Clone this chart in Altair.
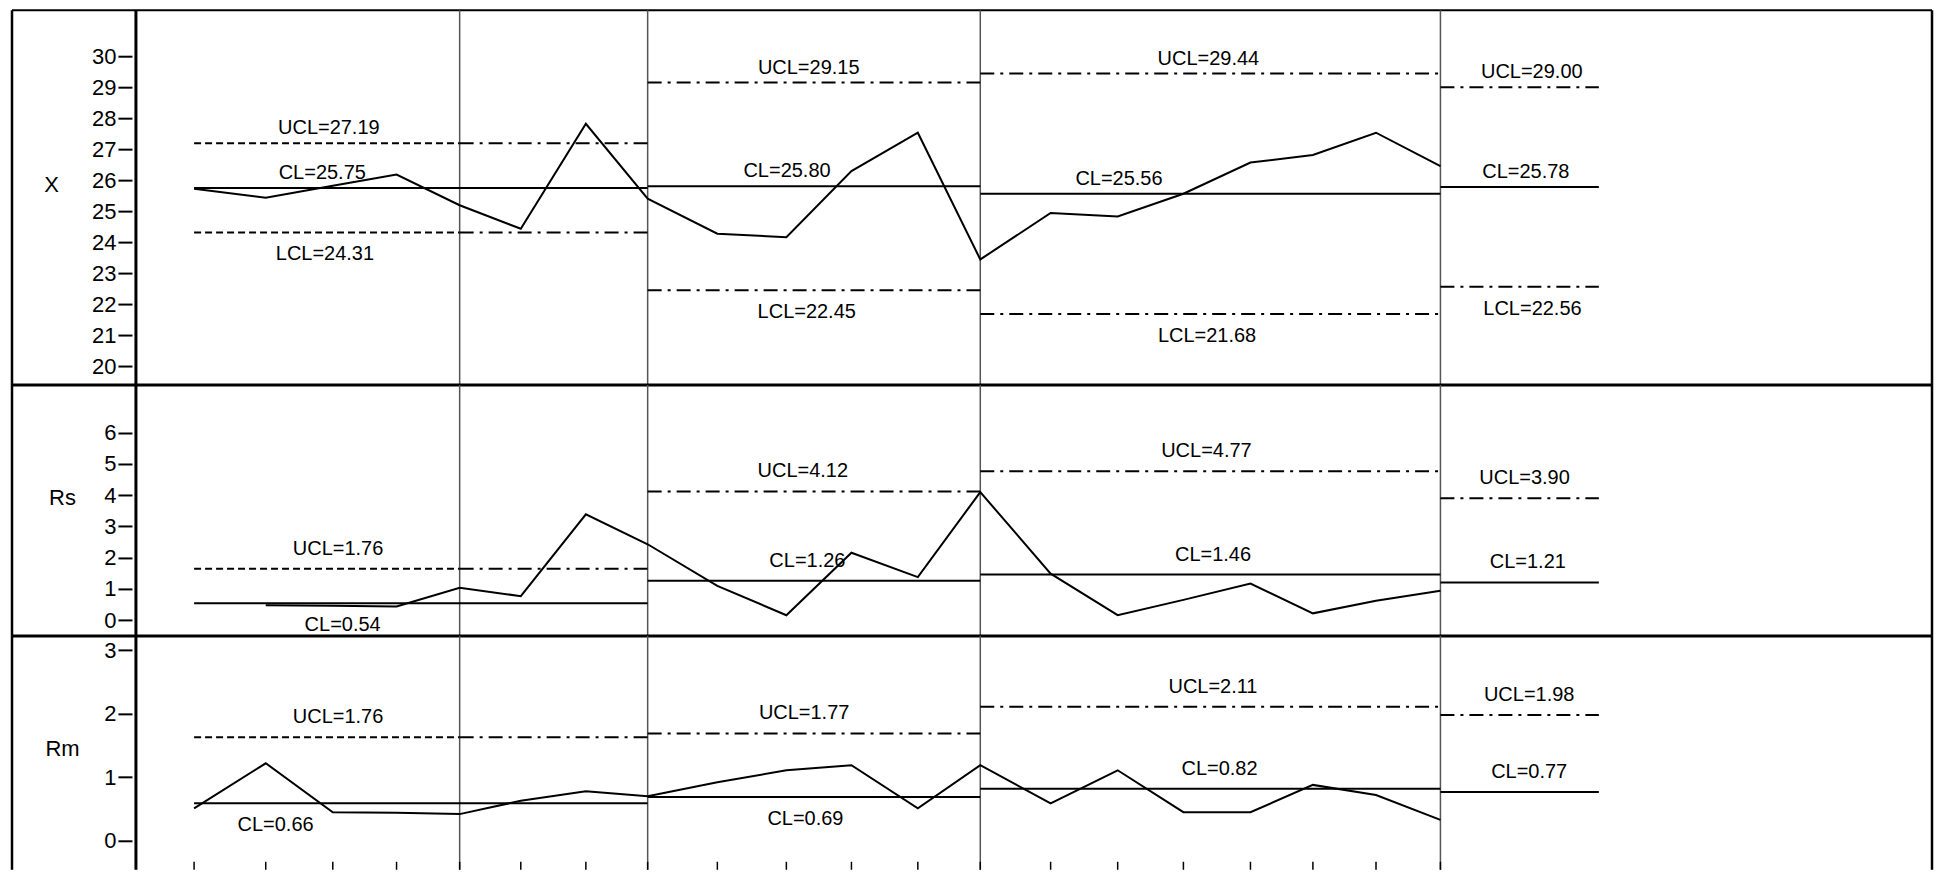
import altair as alt
import pandas as pd

# ---------------- data ----------------
idx = list(range(1, 21))
# horizontal position of each sample (sample-index units)
t_pos = [0.98, 2.07, 3.09, 4.06, 5.02, 5.95, 6.94, 7.88, 8.94, 9.99,
         10.98, 11.99, 12.94, 14.01, 15.03, 16.03, 17.05, 18.00, 18.96, 19.94]
x_vals = [25.72, 25.43, 25.82, 26.18, 25.19, 24.43, 27.82, 25.40, 24.27, 24.16,
          26.29, 27.53, 23.44, 24.94, 24.83, 25.56, 26.57, 26.81, 27.53, 26.45]
rs_vals = [None, 0.48, 0.46, 0.44, 1.04, 0.77, 3.39, 2.43, 1.10, 0.16,
           2.16, 1.38, 4.10, 1.49, 0.16, 0.65, 1.17, 0.22, 0.62, 0.94]
rm_vals = [0.51, 1.22, 0.45, 0.44, 0.42, 0.63, 0.78, 0.70, 0.92, 1.11,
           1.19, 0.51, 1.19, 0.59, 1.11, 0.45, 0.45, 0.88, 0.72, 0.33]

# segments given by sample numbers
seg_first = [1, 8, 13, 20]
seg_last = [8, 13, 20, None]   # last segment: limits only, no data
seg4_end = 22.35
trial_last = 5                 # segment 1: trial limits (dashed) then extended (dash-dot)
boundary_samples = [5, 8, 13, 20]

x_ucl = [27.19, 29.15, 29.44, 29.00]
x_cl = [25.75, 25.80, 25.56, 25.78]
x_lcl = [24.31, 22.45, 21.68, 22.56]
rs_ucl = [1.65, 4.12, 4.77, 3.90]
rs_cl = [0.54, 1.26, 1.46, 1.21]
rm_ucl = [1.63, 1.69, 2.11, 1.98]
rm_cl = [0.59, 0.69, 0.82, 0.77]

x_ucl_lab = ["UCL=27.19", "UCL=29.15", "UCL=29.44", "UCL=29.00"]
x_cl_lab = ["CL=25.75", "CL=25.80", "CL=25.56", "CL=25.78"]
x_lcl_lab = ["LCL=24.31", "LCL=22.45", "LCL=21.68", "LCL=22.56"]
rs_ucl_lab = ["UCL=1.76", "UCL=4.12", "UCL=4.77", "UCL=3.90"]
rs_cl_lab = ["CL=0.54", "CL=1.26", "CL=1.46", "CL=1.21"]
rm_ucl_lab = ["UCL=1.76", "UCL=1.77", "UCL=2.11", "UCL=1.98"]
rm_cl_lab = ["CL=0.66", "CL=0.69", "CL=0.82", "CL=0.77"]

# label anchors (same horizontal units as t_pos)
x_ucl_at = [3.03, 10.33, 16.41, 21.33]
x_cl_at = [2.93, 10.0, 15.05, 21.24]
x_lcl_at = [2.97, 10.30, 16.39, 21.34]
rs_ucl_at = [3.17, 10.24, 16.38, 21.22]
rs_cl_at = [3.24, 10.31, 16.48, 21.27]
rm_ucl_at = [3.17, 10.26, 16.48, 21.29]
rm_cl_at = [2.22, 10.28, 16.58, 21.29]
rs_cl_side = ["below", "above", "above", "above"]
rm_cl_side = ["below", "below", "above", "above"]

x_ticks = list(range(20, 31))
rs_ticks = list(range(0, 7))
rm_ticks = list(range(0, 4))

# ---------------- layout / style ----------------
FONT = "Liberation Sans"
W = 1797
XDOM = [0.0953, 27.418]
xs = alt.Scale(domain=XDOM, nice=False, zero=False)
DASH = [7, 4]
DASHDOT = [14, 6, 3, 6]


def pos_of(sample):
    return t_pos[sample - 1]


seg_start = [pos_of(s) for s in seg_first]
seg_end = [pos_of(s) if s is not None else seg4_end for s in seg_last]
trial_end = pos_of(trial_last)
boundaries = [pos_of(s) for s in boundary_samples]


def limit_rows(ucl, cl, lcl):
    rows = []
    for k in range(4):
        for vals, kind in ((ucl, "UCL"), (cl, "CL"), (lcl, "LCL")):
            if vals is None:
                continue
            v = vals[k]
            if kind == "CL":
                rows.append(dict(x1=seg_start[k], x2=seg_end[k], v=v, s="solid"))
            elif k == 0:
                rows.append(dict(x1=seg_start[k], x2=trial_end, v=v, s="dash"))
                rows.append(dict(x1=trial_end, x2=seg_end[k], v=v, s="dashdot"))
            else:
                rows.append(dict(x1=seg_start[k], x2=seg_end[k], v=v, s="dashdot"))
    return pd.DataFrame(rows)


def label_rows(groups):
    rows = []
    for vals, labs, ats, sides in groups:
        for k in range(4):
            rows.append(dict(lx=ats[k], v=vals[k], t=labs[k], side=sides[k]))
    return pd.DataFrame(rows)


def panel(vals, lim, labs, ydom, yticks, title, title_x, title_y, H,
          above_dy, below_dy, top_w, bottom_ticks=False):
    ys = alt.Scale(domain=ydom, nice=False, zero=False)
    yaxis = alt.Axis(values=yticks, format="d", title=title, titleAngle=0,
                     titleX=title_x, titleY=title_y, titleAlign="center",
                     titleBaseline="middle", titleFont=FONT, titleFontSize=22,
                     titleFontWeight="normal", titleColor="black",
                     labelFont=FONT, labelFontSize=22, labelColor="black",
                     labelPadding=2, labelOverlap=False, labelFlush=False,
                     tickSize=14, tickWidth=2, tickColor="black", offset=4,
                     domain=False, grid=False)
    Y = alt.Y("v:Q", scale=ys, axis=yaxis)
    one = pd.DataFrame({"k": [0]})
    layers = []
    # frame
    layers.append(alt.Chart(one).mark_rule(color="black", strokeWidth=top_w).encode(
        x=alt.value(-124), x2=alt.value(W), y=alt.value(0)))
    layers.append(alt.Chart(one).mark_rule(color="black", strokeWidth=2.5).encode(
        x=alt.value(-124), y=alt.value(0), y2=alt.value(H)))
    layers.append(alt.Chart(one).mark_rule(color="black", strokeWidth=2.5).encode(
        x=alt.value(W), y=alt.value(0), y2=alt.value(H)))
    layers.append(alt.Chart(one).mark_rule(color="black", strokeWidth=3).encode(
        x=alt.value(0), y=alt.value(0), y2=alt.value(H)))
    # segment separators
    layers.append(alt.Chart(pd.DataFrame({"b": boundaries})).mark_rule(
        color="#555555", strokeWidth=1.5).encode(
        x=alt.X("b:Q", scale=xs, axis=None), y=alt.value(0), y2=alt.value(H)))
    if bottom_ticks:
        layers.append(alt.Chart(pd.DataFrame({"p": t_pos})).mark_rule(
            color="black", strokeWidth=1.5).encode(
            x=alt.X("p:Q", scale=xs, axis=None), y=alt.value(H - 8), y2=alt.value(H)))
    # limit lines
    for s, d in (("solid", None), ("dash", DASH), ("dashdot", DASHDOT)):
        sub = lim[lim.s == s]
        if len(sub) == 0:
            continue
        mk = dict(color="black", strokeWidth=2)
        if d is not None:
            mk["strokeDash"] = d
        layers.append(alt.Chart(sub).mark_rule(**mk).encode(
            x=alt.X("x1:Q", scale=xs, axis=None), x2="x2:Q", y=Y))
    # data line
    df = pd.DataFrame({"p": t_pos, "v": vals}).dropna()
    layers.append(alt.Chart(df).mark_line(color="black", strokeWidth=2).encode(
        x=alt.X("p:Q", scale=xs, axis=None), y=Y))
    # labels
    for side, dy in (("above", above_dy), ("below", below_dy)):
        sub = labs[labs.side == side]
        if len(sub) == 0:
            continue
        layers.append(alt.Chart(sub).mark_text(
            font=FONT, fontSize=20, color="black", align="center",
            baseline="middle", dy=dy).encode(
            x=alt.X("lx:Q", scale=xs, axis=None), y=Y, text="t:N"))
    return alt.layer(*layers).properties(width=W, height=H)


ab4 = ["above"] * 4
be4 = ["below"] * 4

p_x = panel(
    x_vals, limit_rows(x_ucl, x_cl, x_lcl),
    label_rows([(x_ucl, x_ucl_lab, x_ucl_at, ab4), (x_cl, x_cl_lab, x_cl_at, ab4),
                (x_lcl, x_lcl_lab, x_lcl_at, be4)]),
    [19.387, 31.484], x_ticks, "X", -81, 174, 375, -15, 22, 2)
p_rs = panel(
    rs_vals, limit_rows(rs_ucl, rs_cl, None),
    label_rows([(rs_ucl, rs_ucl_lab, rs_ucl_at, ab4), (rs_cl, rs_cl_lab, rs_cl_at, rs_cl_side)]),
    [-0.502, 7.525], rs_ticks, "Rs", -70, 113, 251, -20, 22, 3)
p_rm = panel(
    rm_vals, limit_rows(rm_ucl, rm_cl, None),
    label_rows([(rm_ucl, rm_ucl_lab, rm_ucl_at, ab4), (rm_cl, rm_cl_lab, rm_cl_at, rm_cl_side)]),
    [-0.456, 3.225], rm_ticks, "Rm", -70, 113, 234, -20, 22, 3, bottom_ticks=True)

chart = alt.vconcat(p_x, p_rs, p_rm, spacing=0, bounds="flush").properties(
    padding={"left": 2, "top": 0, "right": 0, "bottom": 0},
    background="white",
).configure_view(stroke=None)

chart.save("out.html", embed_options={"renderer": "svg", "actions": False})
